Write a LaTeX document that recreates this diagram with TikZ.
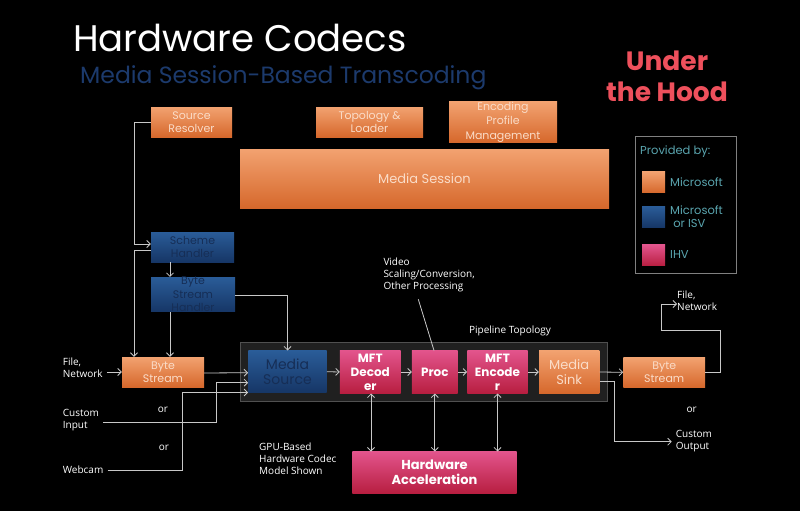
\documentclass[tikz,border=0pt]{standalone}
\usepackage{fontspec}
\setmainfont{Poppins}
\newfontfamily\labelfont{Open Sans}
\usetikzlibrary{arrows.meta}
\definecolor{or1}{RGB}{242,162,112}
\definecolor{or2}{RGB}{214,104,44}
\definecolor{ortext}{RGB}{250,220,200}
\definecolor{bl1}{RGB}{42,92,152}
\definecolor{bl2}{RGB}{22,54,102}
\definecolor{bltext}{RGB}{22,46,86}
\definecolor{pk1}{RGB}{226,84,140}
\definecolor{pk2}{RGB}{184,30,64}
\definecolor{conncol}{RGB}{200,200,200}
\definecolor{subcol}{RGB}{28,58,108}
\definecolor{hoodcol}{RGB}{238,80,92}
\definecolor{legtext}{RGB}{90,165,175}
\definecolor{pipefill}{RGB}{32,32,32}
\definecolor{pipeedge}{RGB}{80,80,80}
\begin{document}
\begin{tikzpicture}[x=1pt,y=-1pt,
  orangebox/.style={top color=or1, bottom color=or2, text=ortext, align=center, inner sep=0pt, font=\fontsize{11}{13.5}\selectfont},
  bluebox/.style={top color=bl1, bottom color=bl2, text=bltext, align=center, inner sep=0pt, font=\fontsize{11}{13.5}\selectfont},
  pinkbox/.style={top color=pk1, bottom color=pk2, text=white, align=center, inner sep=0pt, font=\bfseries\fontsize{12}{14}\selectfont},
  lbl/.style={text=white, align=left, inner sep=0pt, font=\labelfont\fontsize{10}{12}\selectfont},
  conn/.style={draw=conncol, line width=0.8pt},
  arr/.style={conn, -{Straight Barb[length=3.5pt,width=7pt]}},
  darr/.style={conn, {Straight Barb[length=3.5pt,width=7pt]}-{Straight Barb[length=3.5pt,width=7pt]}},
  legtxt/.style={text=legtext, align=left, inner sep=0pt, anchor=west, font=\fontsize{11.5}{13}\selectfont}
]
\fill[black] (0,0) rectangle (800,511);
\useasboundingbox (0,0) rectangle (800,511);

% titles
\node[anchor=base west, text=white, inner sep=0pt, font=\fontsize{37}{40}\selectfont] (title) at (73,52) {Hardware Codecs};
\node[anchor=base west, text=subcol, inner sep=0pt, font=\fontsize{23.5}{25}\selectfont] (subtitle) at (80,84) {Media Session-Based Transcoding};
\node[text=hoodcol, align=center, inner sep=0pt, font=\bfseries\fontsize{26.5}{31}\selectfont] (hood) at (667,76) {Under\\the Hood};

% legend
\node[draw=gray, line width=1pt, minimum width=101pt, minimum height=137pt, inner sep=0pt] (legend) at (686.4,205.4) {};
\node[legtxt] (provby) at (640,152) {Provided by:};
\node[top color=or1, bottom color=or2, minimum width=23pt, minimum height=21pt, inner sep=0pt] (swor) at (653.5,182.2) {};
\node[top color=bl1, bottom color=bl2, minimum width=23pt, minimum height=21pt, inner sep=0pt] (swbl) at (653.5,217) {};
\node[top color=pk1, bottom color=pk2, minimum width=23pt, minimum height=21pt, inner sep=0pt] (swpk) at (653.5,255.4) {};
\node[legtxt] (lgms) at (670,182) {Microsoft};
\node[legtxt] (lgisv) at (670,216.5) {Microsoft\\\ or ISV};
\node[legtxt] (lgihv) at (670,254) {IHV};

% top boxes
\node[orangebox, minimum width=81pt, minimum height=30pt] (sr) at (191.5,122) {Source\\Resolver};
\node[orangebox, minimum width=107pt, minimum height=30pt] (tl) at (369.5,122) {Topology \&\\Loader};
\node[orangebox, minimum width=108pt, minimum height=30pt, font=\fontsize{11}{14.5}\selectfont] (ep) at (503,122) {Encoding\\Profile\\Management};
\node[orangebox, minimum width=369pt, minimum height=59pt, font=\fontsize{13}{15}\selectfont] (ms) at (424.5,178.5) {Media Session};

% left column
\node[bluebox, minimum width=83pt, minimum height=30pt] (sh) at (192.5,247) {Scheme\\Handler};
\node[bluebox, minimum width=84pt, minimum height=29pt] (bsh) at (193,294.5) {Byte\\Stream\\Handler};
\node[orangebox, minimum width=82pt, minimum height=30pt] (bsl) at (163,372) {Byte\\Stream};

% pipeline
\node[fill=pipefill, draw=pipeedge, line width=1pt, minimum width=367.7pt, minimum height=59pt, inner sep=0pt] (pipe) at (423.85,372.2) {};
\node[lbl] (pipelbl) at (510,331) {Pipeline Topology};
\node[bluebox, minimum width=78.4pt, minimum height=42pt, font=\fontsize{14}{15.7}\selectfont] (src) at (287.5,371.7) {Media\\Source};
\node[pinkbox, minimum width=60.7pt, minimum height=42.6pt] (dec) at (370.3,372) {MFT\\Decod\\er};
\node[pinkbox, minimum width=45.7pt, minimum height=42.6pt] (proc) at (434.8,372) {Proc};
\node[pinkbox, minimum width=60.4pt, minimum height=42.6pt] (enc) at (497.5,372) {MFT\\Encode\\r};
\node[orangebox, minimum width=60.3pt, minimum height=42.6pt, font=\fontsize{13}{15}\selectfont] (sink) at (569.2,372) {Media\\Sink};
\node[orangebox, minimum width=81.7pt, minimum height=30pt] (bsr) at (664.2,372.3) {Byte\\Stream};
\node[pinkbox, minimum width=164.4pt, minimum height=41.6pt, font=\bfseries\fontsize{13}{15}\selectfont] (hw) at (434.5,472.5) {Hardware\\Acceleration};

% labels
\node[lbl, anchor=west] (fnl) at (62.7,368) {File,\\Network};
\node[lbl, anchor=west] (ci) at (62.7,420.5) {Custom\\Input};
\node[lbl, anchor=west] (wc) at (62.7,470) {Webcam};
\node[lbl] (or1) at (163,410) {or};
\node[lbl] (or2) at (164,447.7) {or};
\node[lbl, anchor=west] (fnr) at (677,301) {File,\\Network};
\node[lbl, anchor=west] (co) at (675.7,440.7) {Custom\\Output};
\node[lbl] (or3) at (691.7,410) {or};
\node[lbl, anchor=west] (gpu) at (259,458.7) {GPU-Based\\Hardware Codec\\Model Shown};
\node[lbl, anchor=west] (vnote) at (383.3,275) {Video\\Scaling/Conversion,\\Other Processing};
\coordinate (vn) at (418.3,299.3);

% connectors
\draw[arr] (sr.west) -- (134,122) -- (134,244) -- ([yshift=3pt]sh.west);
\draw[arr] ([yshift=-3.7pt]sh.west) -| ([xshift=-29pt]bsl.north);
\draw[arr] ([xshift=-22.5pt]sh.south) -- ([xshift=-23pt]bsh.north);
\draw[arr] ([xshift=-23pt]bsh.south) -- ([xshift=7pt]bsl.north);
\draw[arr] ([yshift=-0.5pt]bsh.east) -| (src.north);
\draw[arr] ([xshift=4pt]fnl.east |- bsl.west) -- (bsl.west);
\draw[arr] ([yshift=-1pt]bsl.east) -- ([yshift=-1pt]src.west);
\draw[arr] ([xshift=4pt,yshift=-2.2pt]ci.east) -- (216.7,422.7) -- (216.7,382.7) -- ([yshift=-11pt]src.west);
\draw[arr] ([xshift=4pt]wc.east) -- (182.7,470) -- (182.7,392.5) -- ([yshift=-20.8pt]src.west);
\draw[arr] (src.east) -- (dec.west);
\draw[arr] (dec.east) -- (proc.west);
\draw[arr] (proc.east) -- (enc.west);
\draw[arr] (enc.east) -- (sink.west);
\draw[arr] (sink.east) -- (bsr.west);
\draw[arr] (bsr.east) -- (720.7,372.3) -- (720.7,330) -- (661,330) -- (661,304) -- ([yshift=-3pt]fnr.west);
\draw[arr] ([yshift=-9.7pt]sink.east) -- (614,381.7) -- (614,441.7) -- ([xshift=-4pt,yshift=-1pt]co.west);
\draw[conn] (vn) -- ([xshift=-0.8pt]proc.north);
\draw[darr] ([xshift=0.7pt]dec.south) -- ([xshift=0.7pt]dec.south |- hw.north);
\draw[darr] (proc.south) -- (proc.south |- hw.north);
\draw[darr] (enc.south) -- (enc.south |- hw.north);
\end{tikzpicture}
\end{document}
